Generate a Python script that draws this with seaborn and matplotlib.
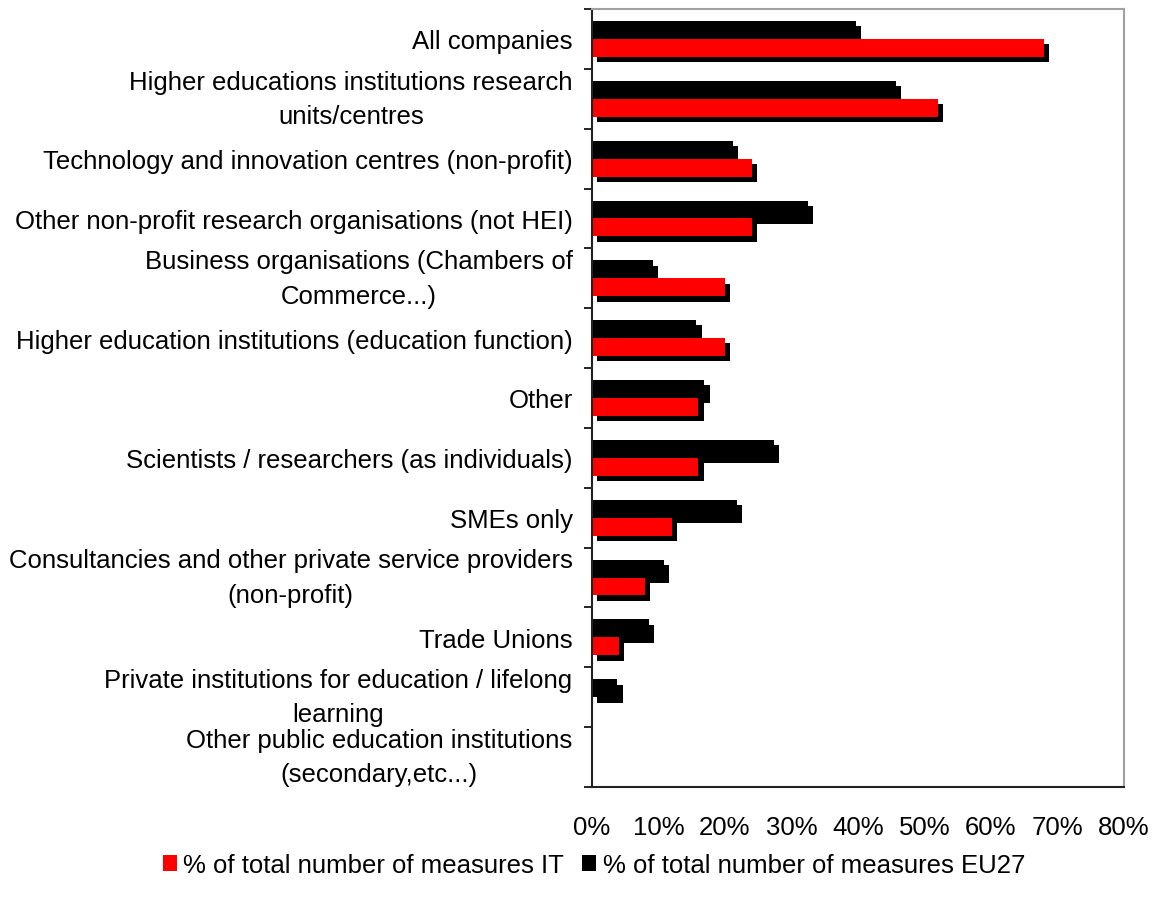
import numpy as np
import pandas as pd
import matplotlib
matplotlib.use("Agg")
import matplotlib.pyplot as plt
import matplotlib.patheffects as pe
from matplotlib.patches import Patch
from matplotlib.ticker import FixedLocator
import seaborn as sns

categories = [
    "All companies",
    "Higher educations institutions research\nunits/centres",
    "Technology and innovation centres (non-profit)",
    "Other non-profit research organisations (not HEI)",
    "Business organisations (Chambers of\nCommerce...)",
    "Higher education institutions (education function)",
    "Other",
    "Scientists / researchers (as individuals)",
    "SMEs only",
    "Consultancies and other private service providers\n(non-profit)",
    "Trade Unions",
    "Private institutions for education / lifelong\nlearning",
    "Other public education institutions\n(secondary,etc...)",
]
share_it = [68, 52, 24, 24, 20, 20, 16, 16, 12, 8, 4, 0, 0]
share_eu27 = [39.7, 45.7, 21.2, 32.5, 9.2, 15.7, 16.9, 27.4, 21.8, 10.8, 8.6, 3.8, 0]
series_names = ["% of total number of measures IT", "% of total number of measures EU27"]
x_ticks = [0, 10, 20, 30, 40, 50, 60, 70, 80]

df = pd.DataFrame({
    "category": categories * 2,
    "value": share_eu27 + share_it,
    "series": [series_names[1]] * len(categories) + [series_names[0]] * len(categories),
})

sns.set_theme(style="white")
plt.rcParams["font.family"] = ["Liberation Sans", "DejaVu Sans"]
plt.rcParams["text.color"] = "black"
plt.rcParams["xtick.color"] = "black"
plt.rcParams["ytick.color"] = "black"

FS = 18.5

fig = plt.figure(figsize=(11.56, 9.04), dpi=100)
ax = fig.add_axes([592 / 1156, 1 - 788 / 904, (1124 - 592) / 1156, (788 - 10) / 904])

colors = {series_names[0]: "#ff0000", series_names[1]: "#000000"}
sns.barplot(
    data=df, y="category", x="value", hue="series",
    hue_order=[series_names[1], series_names[0]], order=categories,
    palette=colors, orient="h", width=0.6, gap=0, ax=ax,
    saturation=1, legend=False, linewidth=0,
)

# drop shadow under every bar
shadow = [pe.SimplePatchShadow(offset=(3.8, -3.8), shadow_rgbFace="black", alpha=1.0), pe.Normal()]
for p in ax.patches:
    p.set_path_effects(shadow)

ax.set_xlim(0, 80)
ax.set_ylim(len(categories) - 0.5, -0.5)
ax.set_xticks(x_ticks)
ax.set_xticklabels([f"{t}%" for t in x_ticks], fontsize=FS)
ax.tick_params(axis="x", direction="out", length=6, width=1.2, color="black", pad=14)

ax.set_yticks(range(len(categories)))
ax.set_yticklabels(categories, fontsize=FS)
ax.tick_params(axis="y", which="major", length=0, pad=14)
ax.yaxis.set_minor_locator(FixedLocator(np.arange(-0.5, len(categories), 1.0)))
ax.tick_params(axis="y", which="minor", direction="out", length=6, width=1.2, color="black", left=True)
for t in ax.get_yticklabels():
    t.set_multialignment("center")
    t.set_linespacing(1.55)
    if "\n" in t.get_text():
        t.set_verticalalignment("center")

ax.set_xlabel("")
ax.set_ylabel("")
ax.grid(False)
for side in ["left", "bottom"]:
    ax.spines[side].set_color("#222222")
    ax.spines[side].set_linewidth(1.5)
for side in ["top", "right"]:
    ax.spines[side].set_color("#a0a0a0")
    ax.spines[side].set_linewidth(1.5)
for s in ax.spines.values():
    s.set_visible(True)

handles = [Patch(facecolor=colors[n], edgecolor="none") for n in series_names]
fig.legend(
    handles, series_names, loc="center", bbox_to_anchor=(594 / 1156, 1 - 866 / 904),
    ncol=2, frameon=False, fontsize=FS, handlelength=0.55, handleheight=0.55,
    handletextpad=0.25, columnspacing=0.7,
)

fig.savefig("out.png", dpi=100)
